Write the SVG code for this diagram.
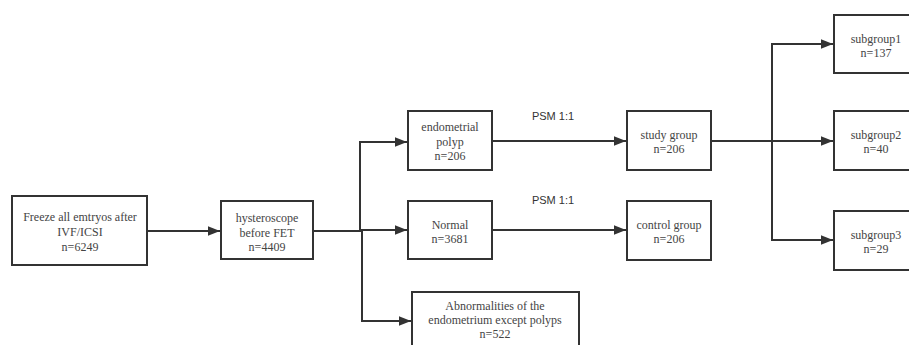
<svg xmlns="http://www.w3.org/2000/svg" width="909" height="345" viewBox="0 0 909 345">
<style>
.box{fill:#fff;stroke:#333;stroke-width:2}
.t{font-family:"Liberation Serif","Times New Roman",serif;font-size:12px;fill:#444;text-anchor:middle}
.s{font-family:"Liberation Sans",Arial,sans-serif;font-size:11px;fill:#333;text-anchor:middle}
.c{fill:none;stroke:#333;stroke-width:2}
</style>
<defs>
<marker id="a" viewBox="0 0 10 10" refX="10" refY="5" markerWidth="6.5" markerHeight="6" markerUnits="strokeWidth" orient="auto">
<path d="M0,1 L10,5 L0,9 Z" fill="#333"/>
</marker>
</defs>
<rect width="909" height="345" fill="#fff"/>
<g id="connectors">
<line class="c" x1="147" y1="231" x2="220" y2="231" marker-end="url(#a)"/>
<polyline class="c" points="313,231 360,231 360,142 407,142" marker-end="url(#a)"/>
<line class="c" x1="360" y1="230" x2="407" y2="230" marker-end="url(#a)"/>
<polyline class="c" points="362,231 362,321 411,321" marker-end="url(#a)"/>
<line class="c" x1="492" y1="141" x2="626" y2="141" marker-end="url(#a)"/>
<line class="c" x1="492" y1="230" x2="626" y2="230" marker-end="url(#a)"/>
<line class="c" x1="711" y1="141" x2="833" y2="141" marker-end="url(#a)"/>
<polyline class="c" points="833,44 772,44 772,240 833,240"/>
<line class="c" x1="772" y1="44" x2="833" y2="44" marker-end="url(#a)"/>
<line class="c" x1="772" y1="240" x2="833" y2="240" marker-end="url(#a)"/>
<text class="s" x="553" y="120">PSM 1:1</text>
<text class="s" x="553" y="204">PSM 1:1</text>
</g>
<g id="n1"><rect class="box" x="12" y="196" width="135" height="69"/>
<text class="t" x="80" y="221">Freeze all emtryos after</text>
<text class="t" x="80" y="236">IVF/ICSI</text>
<text class="t" x="80" y="251">n=6249</text></g>
<g id="n2"><rect class="box" x="221" y="201" width="92" height="58"/>
<text class="t" x="267" y="222">hysteroscope</text>
<text class="t" x="267" y="237">before FET</text>
<text class="t" x="267" y="251">n=4409</text></g>
<g id="n3"><rect class="box" x="408" y="111" width="84" height="59"/>
<text class="t" x="450" y="131">endometrial</text>
<text class="t" x="450" y="146">polyp</text>
<text class="t" x="450" y="160">n=206</text></g>
<g id="n4"><rect class="box" x="408" y="201" width="84" height="58"/>
<text class="t" x="450" y="229">Normal</text>
<text class="t" x="450" y="243">n=3681</text></g>
<g id="n5"><rect class="box" x="412" y="292" width="167" height="62"/>
<text class="t" x="495" y="310">Abnormalities of the</text>
<text class="t" x="495" y="324">endometrium except polyps</text>
<text class="t" x="495" y="338">n=522</text></g>
<g id="n6"><rect class="box" x="627" y="111" width="84" height="59"/>
<text class="t" x="669" y="139">study group</text>
<text class="t" x="669" y="153">n=206</text></g>
<g id="n7"><rect class="box" x="627" y="201" width="84" height="59"/>
<text class="t" x="669" y="229">control group</text>
<text class="t" x="669" y="243">n=206</text></g>
<g id="n8"><rect class="box" x="834" y="15" width="84" height="58"/>
<text class="t" x="876" y="43">subgroup1</text>
<text class="t" x="876" y="57">n=137</text></g>
<g id="n9"><rect class="box" x="834" y="111" width="84" height="59"/>
<text class="t" x="876" y="139">subgroup2</text>
<text class="t" x="876" y="153">n=40</text></g>
<g id="n10"><rect class="box" x="834" y="211" width="84" height="59"/>
<text class="t" x="876" y="239">subgroup3</text>
<text class="t" x="876" y="253">n=29</text></g>
</svg>
